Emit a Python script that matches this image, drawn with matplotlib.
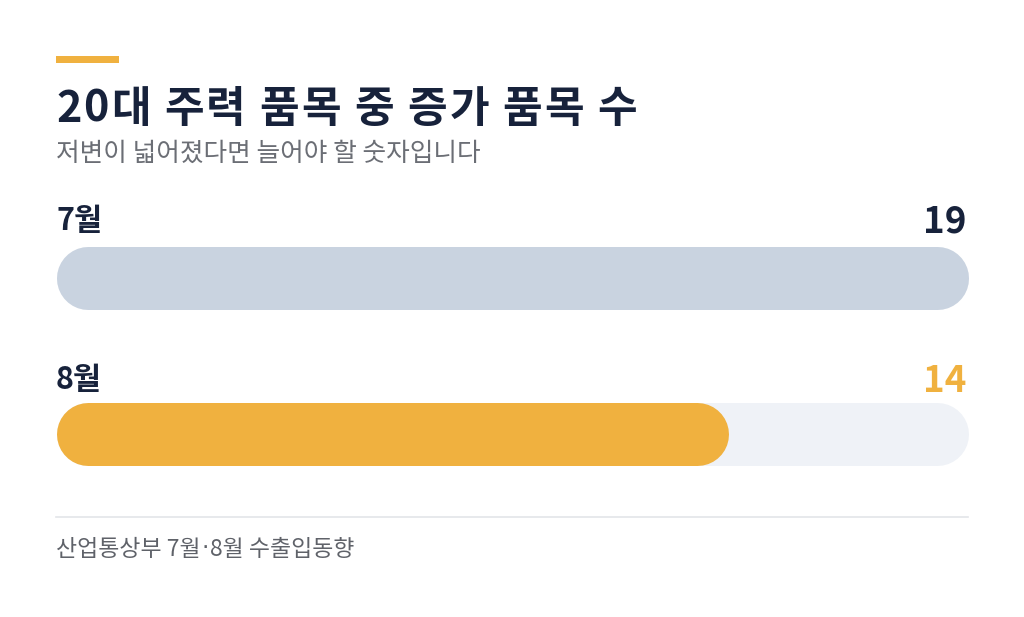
import matplotlib
matplotlib.use("Agg")
import matplotlib.pyplot as plt
from matplotlib.patches import Rectangle

plt.rcParams['font.family'] = ['Noto Sans CJK KR', 'DejaVu Sans']

# data
months = ['7월', '8월']
counts = [19, 14]
max_count = 19
title = '20대 주력 품목 중 증가 품목 수'
subtitle = '저변이 넓어졌다면 늘어야 할 숫자입니다'
source = ['산업통상부 7월', '·', '8월 수출입동향']

navy = '#17223b'
orange = '#f0b13f'
bar_colors = ['#c9d3e0', orange]
value_colors = [navy, orange]
track = '#eff2f7'

fig = plt.figure(figsize=(10.24, 6.17), dpi=100)
ax = fig.add_axes([0, 0, 1, 1])
ax.set_xlim(0, 1024)
ax.set_ylim(617, 0)
ax.axis('off')
renderer = fig.canvas.get_renderer()


def width_of(s, **kw):
    # pixel width of a string, trailing spaces counted via a sentinel
    t = ax.text(0, 0, s + '|', **kw)
    w = t.get_window_extent(renderer).width
    t.remove()
    t = ax.text(0, 0, '|', **kw)
    w -= t.get_window_extent(renderer).width
    t.remove()
    return w


def tracked_text(x, y, s, spacing, **kw):
    # text with extra letter spacing (pixels)
    for k, ch in enumerate(s):
        if ch != ' ':
            ax.text(x + width_of(s[:k], **kw) + spacing * k, y, ch, **kw)


# accent line + header
ax.add_patch(Rectangle((56, 56), 63, 7, color=orange, lw=0))
tracked_text(56, 108.5, title, 2.0, fontsize=31, fontweight='bold', color=navy, va='center')
ax.text(56, 154, subtitle, fontsize=18.5, color='#6b6e75', va='center')

left, right = 56, 968
bar_h = 63
bar_pt = bar_h * 72 / fig.dpi
r = bar_h / 2
rows_y = [277.5, 433.5]
label_y = [221, 380]
for i in range(len(months)):
    yc = rows_y[i]
    ax.text(left, label_y[i], months[i], fontsize=22, fontweight='bold', color=navy, va='center')
    ax.text(right - 2, label_y[i] + 1, str(counts[i]), fontsize=26.5, fontweight='bold',
            color=value_colors[i], va='center', ha='right')
    # background track and value bar as round-capped thick lines
    ax.plot([left + r, right - r], [yc, yc], color=track, lw=bar_pt, solid_capstyle='round')
    w = (right - left) * counts[i] / max_count
    ax.plot([left + r, left + w - r], [yc, yc], color=bar_colors[i], lw=bar_pt,
            solid_capstyle='round')

ax.plot([left, right], [517, 517], color='#e3e5e9', lw=1.2)

# footer, middle dot drawn narrow
foot_kw = dict(fontsize=16.5, color='#5f6269', va='center')
x = 56
ax.text(x, 549, source[0], **foot_kw)
x += width_of(source[0], **foot_kw) + 1
ax.text(x, 549, source[1], family='DejaVu Sans', **foot_kw)
x += width_of(source[1], family='DejaVu Sans', **foot_kw) + 1
ax.text(x, 549, source[2], **foot_kw)

fig.savefig('out.png', dpi=100, facecolor='white')
